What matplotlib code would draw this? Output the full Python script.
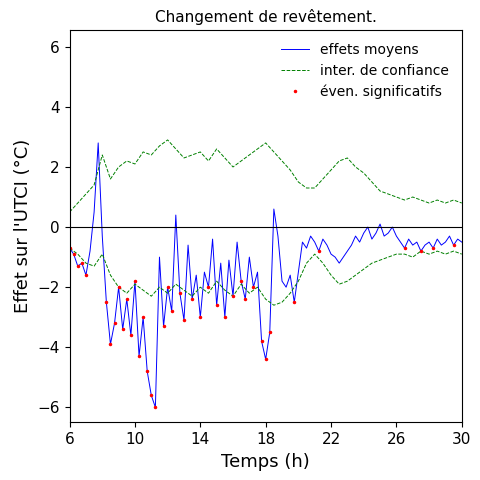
import numpy as np
import matplotlib
matplotlib.use("Agg")
import matplotlib.pyplot as plt

# mean effect, every 0.25 h from 6 to 30
hours = np.arange(6, 30.01, 0.25)
mean_effect = [
    -0.7, -0.9, -1.3, -1.2, -1.6, -0.8, 0.5, 2.8, -0.3, -2.5, -3.9, -3.2,
    -2.0, -3.4, -2.4, -3.6, -1.8, -4.3, -3.0, -4.8, -5.6, -6.0, -1.0, -3.3,
    -2.0, -2.8, 0.4, -2.2, -3.1, -0.6, -2.4, -1.6, -3.0, -1.5, -2.0, -0.4,
    -2.6, -1.2, -3.0, -1.1, -2.3, -0.5, -1.8, -2.4, -1.0, -2.0, -1.5, -3.8,
    -4.4, -3.5, 0.6, -0.3, -1.8, -2.0, -1.6, -2.5, -1.5, -0.5, -0.7, -0.3,
    -0.5, -0.8, -0.4, -0.6, -0.9, -1.0, -1.2, -1.0, -0.8, -0.6, -0.3, -0.5,
    -0.2, 0.0, -0.4, -0.2, 0.1, -0.3, -0.2, 0.0, -0.3, -0.5, -0.7, -0.4,
    -0.6, -0.5, -0.8, -0.6, -0.5, -0.7, -0.4, -0.6, -0.5, -0.3, -0.6, -0.4,
    -0.5,
]

# confidence bounds, every 0.5 h
ci_hours = np.arange(6, 30.01, 0.5)
ci_upper = [
    0.5, 0.8, 1.1, 1.4, 2.4, 1.6, 2.0, 2.2, 2.1, 2.5, 2.4, 2.7, 2.9, 2.6,
    2.3, 2.4, 2.5, 2.2, 2.6, 2.3, 2.0, 2.2, 2.4, 2.6, 2.8, 2.5, 2.2, 1.9,
    1.5, 1.3, 1.3, 1.6, 1.9, 2.2, 2.3, 2.0, 1.8, 1.5, 1.2, 1.1, 1.0, 0.9,
    1.0, 0.9, 0.8, 0.9, 0.8, 0.9, 0.8,
]
ci_lower = [
    -0.7, -0.9, -1.2, -1.3, -0.9, -1.6, -2.0, -2.2, -1.9, -2.1, -2.3, -2.0,
    -2.2, -1.9, -2.1, -2.3, -2.0, -2.2, -1.8, -2.1, -2.3, -1.9, -2.2, -2.0,
    -2.4, -2.6, -2.5, -2.2, -1.8, -1.2, -0.9, -1.2, -1.6, -1.9, -1.8, -1.6,
    -1.4, -1.2, -1.1, -1.0, -0.9, -0.9, -1.0, -0.8, -0.9, -0.8, -0.9, -0.8,
    -0.9,
]

mean_effect = np.array(mean_effect)
lower_at_hours = np.array([ci_lower[int(round((h - 6) / 0.5))] for h in hours])
significant = mean_effect < lower_at_hours + 0.3

fig, ax = plt.subplots(figsize=(4.8, 4.8), dpi=100)
ax.plot(hours, mean_effect, color="blue", lw=0.7, label="effets moyens")
ax.plot(ci_hours, ci_upper, color="green", lw=0.7, ls="--", label="inter. de confiance")
ax.plot(ci_hours, ci_lower, color="green", lw=0.7, ls="--")
ax.plot(hours[significant], mean_effect[significant], ".", color="red", ms=3,
        ls="none", label="éven. significatifs")
ax.axhline(0, color="black", lw=0.8)

ax.set_xlim(6, 30)
ax.set_ylim(-6.5, 6.55)
ax.set_xticks(range(6, 31, 4))
ax.set_yticks(range(-6, 7, 2))
ax.tick_params(labelsize=11)
ax.set_xlabel("Temps (h)", fontsize=13)
ax.set_ylabel("Effet sur l'UTCI (°C)", fontsize=13)
ax.set_title("Changement de revêtement.", fontsize=11)
ax.legend(loc="upper right", frameon=False, fontsize=10)

fig.subplots_adjust(left=0.145, right=0.962, top=0.937, bottom=0.12)
fig.savefig("out.png", dpi=100)
